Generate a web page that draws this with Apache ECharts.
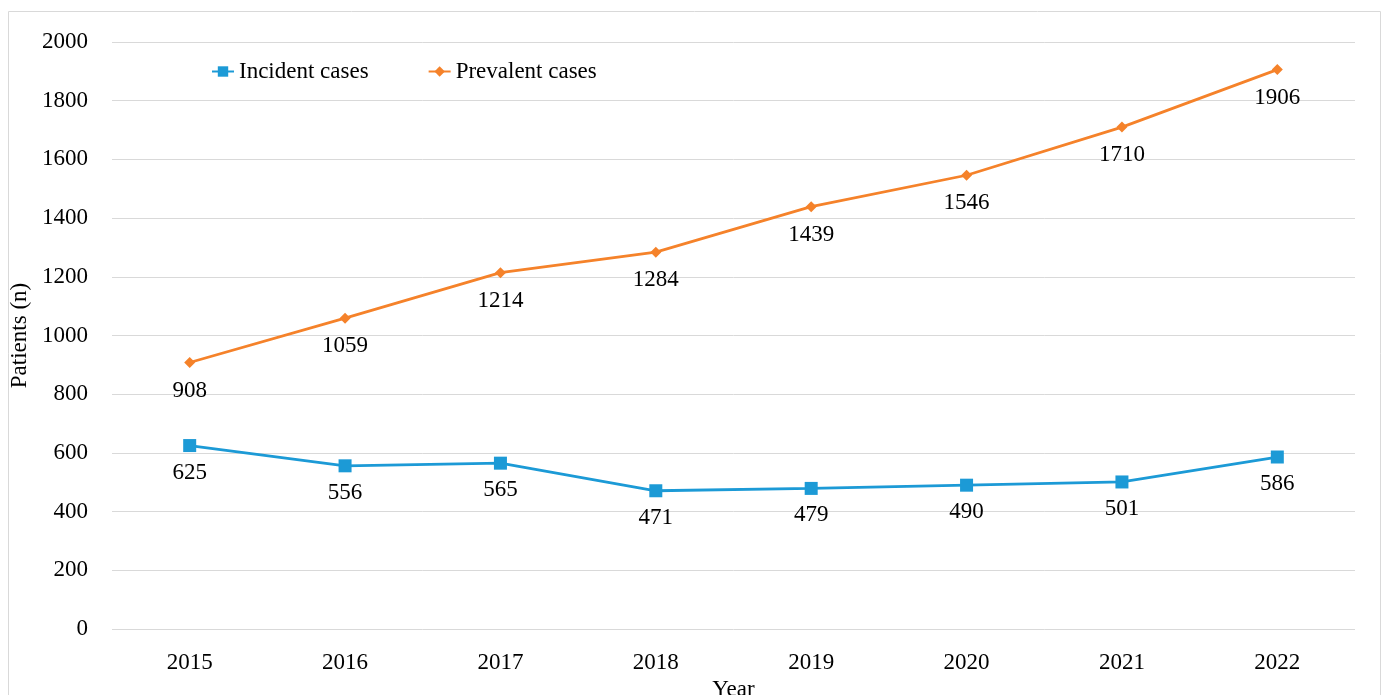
<!DOCTYPE html>
<html><head><meta charset="utf-8">
<script src="https://cdn.jsdelivr.net/npm/echarts@6/dist/echarts.min.js"></script>
<style>html,body{margin:0;padding:0;background:#fff}#c{width:1387px;height:695px}</style>
</head><body><div id="c"></div>
<script>
const years = ['2015','2016','2017','2018','2019','2020','2021','2022'];
const incident = [625,556,565,471,479,490,501,586];
const prevalent = [908,1059,1214,1284,1439,1546,1710,1906];
const yTicks = {min:0, max:2000, interval:200};
const font = 'Liberation Serif';
const fs = 23;
const chart = echarts.init(document.getElementById('c'));
chart.setOption({
  animation:false,
  textStyle:{fontFamily:font},
  graphic:[{type:'rect',shape:{x:8.5,y:11.5,width:1372,height:700},style:{fill:'none',stroke:'#d9d9d9',lineWidth:1},silent:true}],
  legend:{
    left:206, top:55, itemGap:59, itemWidth:22, itemHeight:13,
    textStyle:{fontFamily:font,fontSize:fs,color:'#000'},
    data:[{name:'Incident cases'},{name:'Prevalent cases'}]
  },
  grid:{left:112,right:32,top:42,bottom:66,outerBoundsMode:'none',containLabel:false},
  xAxis:{type:'category',data:years,name:'Year',nameLocation:'middle',nameGap:45,
    nameTextStyle:{fontFamily:font,fontSize:fs,color:'#000'},
    axisLine:{show:false},axisTick:{show:false},
    axisLabel:{fontFamily:font,fontSize:fs,color:'#000',margin:22}},
  yAxis:{type:'value',min:yTicks.min,max:yTicks.max,interval:yTicks.interval,
    name:'Patients (n)',nameLocation:'middle',nameGap:74,
    nameTextStyle:{fontFamily:font,fontSize:fs,color:'#000'},
    axisLabel:{fontFamily:font,fontSize:fs,color:'#000',margin:24,formatter:v=>String(v)},
    splitLine:{lineStyle:{color:'#d9d9d9',width:1}}},
  series:[
    {name:'Incident cases',type:'line',data:incident,symbol:'rect',symbolSize:13,
     itemStyle:{color:'#1c9ad6'},lineStyle:{color:'#1c9ad6',width:2.8},
     label:{show:true,position:'bottom',distance:9,fontFamily:font,fontSize:fs,color:'#000'}},
    {name:'Prevalent cases',type:'line',data:prevalent,symbol:'diamond',symbolSize:11,
     itemStyle:{color:'#f5822a'},lineStyle:{color:'#f5822a',width:2.8},
     label:{show:true,position:'bottom',distance:11,fontFamily:font,fontSize:fs,color:'#000'}}
  ]
});
</script></body></html>
